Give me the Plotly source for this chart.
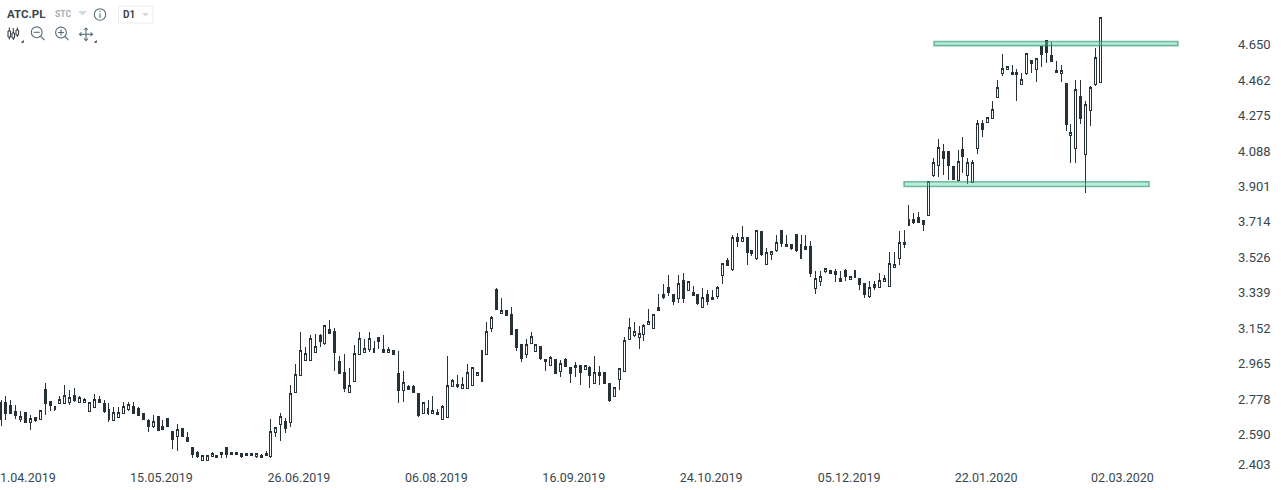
import plotly.graph_objects as go

# OHLC rows (open, high, low, close), one candle per session
ohlc_rows = """
2.672 2.774 2.636 2.761
2.761 2.795 2.668 2.700
2.742 2.774 2.698 2.700
2.710 2.747 2.673 2.689
2.668 2.714 2.659 2.687
2.708 2.708 2.654 2.654
2.654 2.694 2.617 2.673
2.679 2.684 2.659 2.664
2.670 2.719 2.670 2.719
2.830 2.863 2.694 2.752
2.767 2.768 2.717 2.742
2.721 2.742 2.717 2.738
2.754 2.795 2.752 2.777
2.754 2.853 2.752 2.798
2.760 2.826 2.747 2.788
2.798 2.837 2.763 2.768
2.761 2.795 2.758 2.788
2.761 2.782 2.760 2.777
2.712 2.760 2.712 2.760
2.733 2.804 2.731 2.777
2.777 2.795 2.758 2.760
2.752 2.774 2.705 2.710
2.721 2.758 2.659 2.668
2.664 2.735 2.664 2.708
2.682 2.735 2.679 2.708
2.701 2.763 2.700 2.740
2.723 2.763 2.717 2.751
2.740 2.763 2.700 2.701
2.730 2.735 2.689 2.691
2.700 2.703 2.668 2.670
2.663 2.673 2.606 2.633
2.633 2.694 2.626 2.661
2.687 2.689 2.612 2.612
2.631 2.668 2.615 2.617
2.673 2.673 2.633 2.633
2.608 2.610 2.515 2.564
2.580 2.647 2.506 2.619
2.620 2.620 2.580 2.580
2.573 2.605 2.552 2.554
2.520 2.525 2.469 2.485
2.497 2.503 2.469 2.474
2.455 2.481 2.455 2.481
2.455 2.485 2.453 2.481
2.474 2.496 2.471 2.490
2.481 2.481 2.469 2.469
2.485 2.499 2.469 2.496
2.520 2.525 2.469 2.485
2.485 2.499 2.480 2.496
2.485 2.497 2.485 2.497
2.490 2.492 2.469 2.474
2.490 2.490 2.480 2.480
2.490 2.490 2.480 2.480
2.474 2.492 2.469 2.490
2.481 2.487 2.469 2.469
2.492 2.503 2.480 2.480
2.474 2.673 2.469 2.608
2.601 2.629 2.580 2.629
2.643 2.703 2.559 2.687
2.661 2.677 2.598 2.622
2.656 2.853 2.628 2.809
2.812 2.964 2.809 2.909
2.902 3.133 2.900 3.036
2.981 3.052 2.981 3.020
2.981 3.117 2.981 3.099
3.024 3.122 3.024 3.057
3.112 3.120 3.053 3.080
3.069 3.168 3.064 3.168
3.147 3.196 3.124 3.127
3.136 3.154 2.927 3.024
2.978 3.006 2.911 2.911
2.921 3.016 2.816 2.832
2.812 2.941 2.811 2.851
2.870 3.064 2.870 3.020
3.013 3.133 3.011 3.099
3.024 3.096 3.022 3.046
3.039 3.133 3.027 3.099
3.024 3.085 3.022 3.046
3.101 3.101 3.043 3.080
3.038 3.117 3.022 3.022
3.024 3.052 3.022 3.038
3.032 3.032 3.011 3.011
2.911 3.032 2.758 2.821
2.823 2.925 2.763 2.867
2.842 2.851 2.826 2.826
2.842 2.851 2.811 2.811
2.809 2.809 2.684 2.689
2.701 2.761 2.701 2.761
2.701 2.774 2.696 2.730
2.701 2.795 2.700 2.719
2.708 2.724 2.694 2.694
2.670 2.747 2.668 2.740
2.680 3.006 2.680 2.851
2.844 2.883 2.842 2.877
2.856 2.906 2.839 2.842
2.833 2.895 2.832 2.856
2.833 2.964 2.833 2.920
2.849 2.946 2.849 2.946
2.902 2.920 2.902 2.920
2.870 3.036 2.870 3.036
3.013 3.185 3.013 3.136
3.150 3.215 3.131 3.210
3.358 3.363 3.249 3.249
3.229 3.312 3.228 3.247
3.247 3.247 3.217 3.217
3.226 3.265 3.117 3.117
3.147 3.147 3.032 3.048
3.068 3.069 2.974 2.990
3.013 3.096 2.995 3.068
3.071 3.133 3.069 3.110
3.029 3.068 3.029 3.068
3.057 3.059 2.985 2.990
2.988 2.990 2.927 2.974
2.958 3.006 2.958 2.999
2.988 2.988 2.911 2.911
2.923 2.985 2.895 2.967
2.988 2.994 2.948 2.948
2.946 2.948 2.863 2.911
2.957 2.972 2.895 2.943
2.957 2.958 2.853 2.921
2.934 2.957 2.934 2.957
2.946 2.951 2.837 2.900
2.860 3.006 2.858 2.920
2.920 2.953 2.853 2.902
2.920 2.920 2.855 2.860
2.858 2.858 2.760 2.770
2.791 2.841 2.791 2.841
2.881 2.941 2.827 2.941
2.923 3.106 2.923 3.089
3.092 3.207 3.092 3.157
3.113 3.186 3.108 3.136
3.103 3.165 3.043 3.126
3.119 3.175 3.087 3.168
3.172 3.254 3.172 3.189
3.150 3.226 3.150 3.226
3.260 3.333 3.244 3.244
3.328 3.386 3.307 3.312
3.369 3.434 3.323 3.339
3.328 3.333 3.275 3.291
3.309 3.434 3.286 3.390
3.407 3.444 3.286 3.307
3.351 3.400 3.351 3.400
3.339 3.376 3.323 3.323
3.328 3.328 3.275 3.281
3.261 3.365 3.260 3.316
3.328 3.355 3.275 3.291
3.304 3.355 3.302 3.316
3.318 3.376 3.309 3.369
3.430 3.495 3.386 3.495
3.508 3.524 3.481 3.481
3.460 3.645 3.455 3.629
3.629 3.656 3.583 3.613
3.610 3.693 3.608 3.629
3.629 3.633 3.487 3.552
3.561 3.561 3.534 3.545
3.518 3.670 3.515 3.670
3.661 3.661 3.536 3.541
3.488 3.576 3.487 3.550
3.541 3.561 3.513 3.559
3.561 3.645 3.557 3.606
3.671 3.671 3.583 3.599
3.597 3.645 3.582 3.582
3.597 3.597 3.566 3.573
3.650 3.650 3.557 3.562
3.520 3.645 3.518 3.597
3.585 3.645 3.566 3.569
3.582 3.612 3.423 3.441
3.362 3.455 3.333 3.416
3.399 3.455 3.376 3.427
3.450 3.469 3.444 3.469
3.458 3.458 3.444 3.444
3.450 3.464 3.397 3.434
3.416 3.455 3.397 3.397
3.458 3.464 3.402 3.428
3.409 3.427 3.409 3.427
3.458 3.458 3.418 3.418
3.416 3.416 3.355 3.381
3.390 3.390 3.312 3.328
3.318 3.402 3.314 3.369
3.381 3.402 3.355 3.365
3.370 3.444 3.365 3.406
3.399 3.434 3.397 3.416
3.372 3.555 3.370 3.495
3.473 3.555 3.471 3.490
3.520 3.664 3.487 3.606
3.606 3.671 3.576 3.592
3.697 3.803 3.697 3.729
3.729 3.759 3.704 3.713
3.738 3.764 3.710 3.710
3.719 3.719 3.667 3.699
3.750 3.930 3.746 3.930
3.958 4.050 3.953 4.029
4.013 4.150 3.953 4.108
4.087 4.124 3.962 4.048
4.087 4.087 3.936 4.011
4.008 4.008 3.936 3.936
3.932 4.094 3.930 4.034
4.098 4.161 3.973 4.059
3.958 4.050 3.916 4.029
3.923 4.039 3.921 4.029
4.101 4.251 4.075 4.235
4.235 4.251 4.164 4.201
4.240 4.266 4.238 4.266
4.261 4.351 4.256 4.309
4.372 4.464 4.370 4.425
4.497 4.601 4.486 4.525
4.520 4.536 4.520 4.536
4.504 4.541 4.492 4.492
4.504 4.520 4.354 4.492
4.441 4.499 4.439 4.467
4.497 4.604 4.492 4.604
4.567 4.567 4.502 4.550
4.520 4.578 4.455 4.578
4.638 4.638 4.534 4.597
4.673 4.673 4.555 4.608
4.594 4.664 4.559 4.559
4.516 4.564 4.501 4.501
4.499 4.541 4.455 4.515
4.446 4.446 4.196 4.226
4.171 4.230 4.027 4.187
4.103 4.464 4.027 4.414
4.377 4.464 4.231 4.259
4.071 4.351 3.865 4.335
4.303 4.430 4.222 4.425
4.439 4.631 4.434 4.583
4.451 4.794 4.451 4.794
"""
rows = [list(map(float, r.split())) for r in ohlc_rows.strip().splitlines()]
opens = [r[0] for r in rows]
highs = [r[1] for r in rows]
lows = [r[2] for r in rows]
closes = [r[3] for r in rows]
bars = list(range(len(rows)))

date_ticks = [32.7, 60.7, 88.7, 116.7, 144.7, 172.8, 200.7, 228.5]
date_labels = ["15.05.2019", "26.06.2019", "06.08.2019", "16.09.2019",
               "24.10.2019", "05.12.2019", "22.01.2020", "02.03.2020"]
first_date_label = "1.04.2019"
price_ticks = [4.650, 4.462, 4.275, 4.088, 3.901, 3.714, 3.526, 3.339, 3.152, 2.965, 2.778, 2.590, 2.4315]
price_labels = ["4.650", "4.462", "4.275", "4.088", "3.901", "3.714", "3.526", "3.339",
                "3.152", "2.965", "2.778", "2.590", "2.403"]
zone_upper = (190.1, 239.8, 4.645, 4.667)
zone_lower = (184.0, 233.9, 3.901, 3.926)

W, H = 1281, 490
ML, MR, MT, MB = 0, 44, 0, 22
PW, PH = W - ML - MR, H - MT - MB
DARK = "#263238"
TEXT = "#37474f"
GREY = "#a3adb5"


def X(v):
    return v / PW


def Y(v):
    return 1 - v / PH


def path(points, close=False):
    d = "M" + " L".join(f"{X(a):.5f},{Y(b):.5f}" for a, b in points)
    return d + (" Z" if close else "")


shapes = []


def line(points, color="#546e7a", width=1.1):
    shapes.append(dict(type="path", xref="paper", yref="paper", path=path(points),
                       line=dict(color=color, width=width), layer="above"))


def tri(points, color):
    shapes.append(dict(type="path", xref="paper", yref="paper", path=path(points, True),
                       fillcolor=color, line=dict(width=0), layer="above"))


def circle(cx, cy, r, color="#546e7a"):
    shapes.append(dict(type="circle", xref="paper", yref="paper", x0=X(cx - r), x1=X(cx + r),
                       y0=Y(cy + r), y1=Y(cy - r), line=dict(color=color, width=1.1),
                       fillcolor="rgba(0,0,0,0)", layer="above"))


for z in (zone_upper, zone_lower):
    shapes.append(dict(type="rect", xref="x", yref="y", x0=z[0], x1=z[1], y0=z[2], y1=z[3],
                       fillcolor="rgba(90,215,165,0.42)",
                       line=dict(color="rgba(20,135,95,0.55)", width=1.6), layer="above"))

# header widgets
tri([(78, 11), (87, 11), (82.5, 15.5)], "#d5d9dc")
circle(100, 14.5, 5.7)
line([(100, 13.5), (100, 18)])
line([(100, 10.8), (100, 12)])
shapes.append(dict(type="rect", xref="paper", yref="paper", x0=X(118.5), x1=X(153), y0=Y(23), y1=Y(6),
                   line=dict(color="#ececec", width=1), fillcolor="rgba(0,0,0,0)", layer="above"))
tri([(142, 13), (149, 13), (145.5, 16.5)], "#d5d9dc")

# toolbar icons
for cx, ys in ((9.3, (27.5, 39.5, 31, 37)), (13.3, (28, 40, 33, 38)), (17.3, (27.5, 37, 30, 35))):
    line([(cx, ys[0]), (cx, ys[1])], DARK, 1)
    shapes.append(dict(type="rect", xref="paper", yref="paper", x0=X(cx - 1.3), x1=X(cx + 1.3),
                       y0=Y(ys[3]), y1=Y(ys[2]), line=dict(color=DARK, width=1),
                       fillcolor="white", layer="above"))
circle(36.7, 32.3, 5.4)
line([(40.7, 36.3), (44.3, 40)])
line([(33.7, 32.3), (39.7, 32.3)])
circle(61, 32.5, 5.4)
line([(65, 36.5), (68.5, 40.2)])
line([(58, 32.5), (64, 32.5)])
line([(61, 29.5), (61, 35.5)])
line([(79.5, 34.3), (92.5, 34.3)])
line([(86, 28), (86, 40.7)])
line([(81.5, 32.5), (79.5, 34.3), (81.5, 36.1)])
line([(90.5, 32.5), (92.5, 34.3), (90.5, 36.1)])
line([(84.2, 30), (86, 28), (87.8, 30)])
line([(84.2, 38.7), (86, 40.7), (87.8, 38.7)])
tri([(23.7, 40), (23.7, 42.7), (21, 42.7)], "#222222")
tri([(96.7, 40), (96.7, 42.7), (94, 42.7)], "#222222")


def note(x, y, text, size, color, bold=False, anchor="left"):
    return dict(xref="paper", yref="paper", x=X(x), y=Y(y), text=f"<b>{text}</b>" if bold else text,
                showarrow=False, xanchor=anchor, yanchor="middle", xshift=0,
                font=dict(family="Roboto", size=size, color=color))


annotations = [
    note(5, 14, "ATC.PL", 11.5, TEXT, True),
    note(53, 14, "STC", 8.5, GREY, True),
    note(120.5, 14.5, "D1", 10, TEXT, True),
    note(58, 477.5, first_date_label, 12.5, TEXT, anchor="right"),
]

fig = go.Figure(go.Candlestick(
    x=bars, open=opens, high=highs, low=lows, close=closes,
    whiskerwidth=0,
    increasing=dict(line=dict(color=DARK, width=1), fillcolor="#ffffff"),
    decreasing=dict(line=dict(color=DARK, width=1), fillcolor=DARK),
    showlegend=False,
))
fig.update_layout(
    width=W, height=H,
    margin=dict(l=ML, r=MR, t=MT, b=MB, pad=0),
    paper_bgcolor="white", plot_bgcolor="white",
    boxgap=0.43,
    font=dict(family="Roboto", size=13, color=TEXT),
    shapes=shapes, annotations=annotations,
    xaxis=dict(range=[-0.204, (PW - 1) / 4.908], rangeslider=dict(visible=False), showgrid=False, zeroline=False,
               tickmode="array", tickvals=date_ticks, ticktext=date_labels, ticks="", showline=False,
               tickangle=0, tickfont=dict(size=12.5, color=TEXT)),
    yaxis=dict(range=[4.650 - (PH - 44.7) / 189.3, 4.650 + 44.7 / 189.3], side="right", showgrid=False,
               zeroline=False, tickmode="array", tickvals=price_ticks, ticktext=price_labels,
               ticks="", showline=False, tickfont=dict(size=13, color=TEXT)),
)
post = """
document.body.style.margin='0';
var st=document.createElement('style');
st.textContent='.boxlayer path{shape-rendering:crispEdges !important;}';
document.head.appendChild(st);
"""
fig.write_html("out.html", post_script=post, config=dict(displayModeBar=False))
